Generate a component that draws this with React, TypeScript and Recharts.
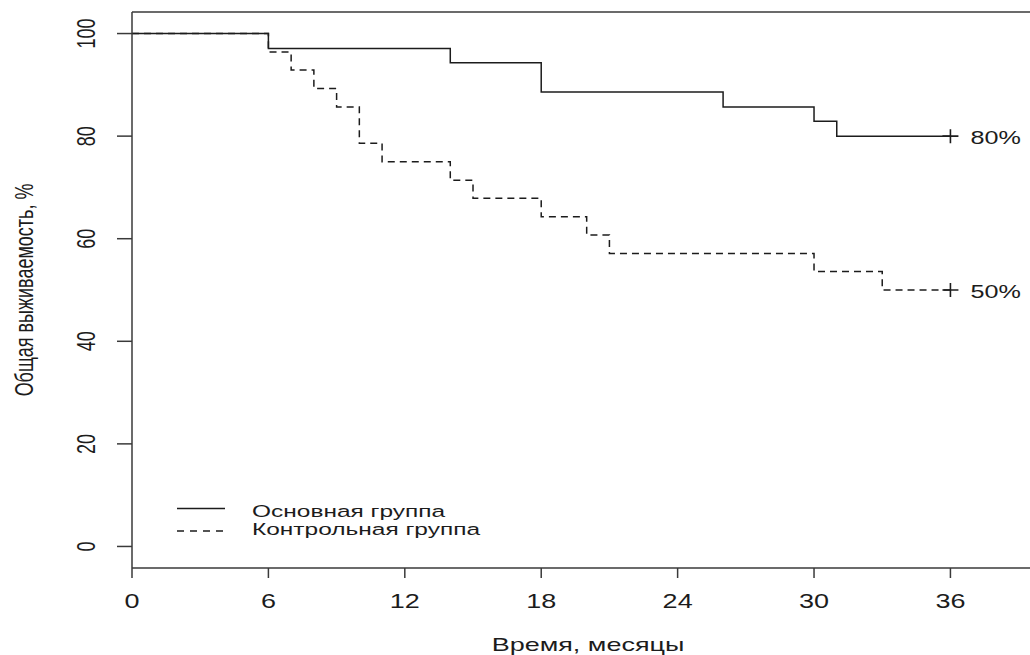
import { LineChart, Line, XAxis, YAxis, ReferenceLine, Legend } from "recharts";

const FONT = "'Liberation Sans', Arial, sans-serif";
const INK = "#1c1c1c";
const AXIS = "#3a3a3a";

// Kaplan-Meier steps (month -> survival %)
const mainMonths = [0, 6, 14, 18, 26, 30, 31, 36];
const mainSurvival = [100, 97.1, 94.3, 88.6, 85.7, 82.9, 80, 80];
const controlMonths = [0, 6, 7, 8, 9, 10, 11, 14, 15, 18, 20, 21, 30, 33, 36];
const controlSurvival = [100, 96.4, 92.9, 89.3, 85.7, 78.6, 75, 71.4, 67.9, 64.3, 60.7, 57.1, 53.6, 50, 50];
const censoredAt = 36;

const seriesNames = ["Основная группа", "Контрольная группа"];
const xTicks = [0, 6, 12, 18, 24, 30, 36];
const yTicks = [0, 20, 40, 60, 80, 100];
const xTitle = "Время, месяцы";
const yTitle = "Общая выживаемость, %";

const xMax = 39.5;
const yMin = -4.2;
const yMax = 104.2;

const mainData = mainMonths.map((t, i) => ({ t, s: mainSurvival[i] }));
const controlData = controlMonths.map((t, i) => ({ t, s: controlSurvival[i] }));

// the source image is stretched sideways, so text is scaled on x
function StretchText({ x, y, sx = 1.4, size = 18, anchor = "middle", rotate = false, children }: any) {
  const transform = `translate(${x},${y}) scale(${sx},1)` + (rotate ? " rotate(-90)" : "");
  return (
    <text transform={transform} x={0} y={0} textAnchor={anchor} fontSize={size} fontFamily={FONT} fill={INK}>
      {children}
    </text>
  );
}

function XTick({ x, y, payload }: any) {
  return <StretchText x={x} y={y + 30} size={20} sx={1.35}>{payload.value}</StretchText>;
}

function YTick({ x, y, payload }: any) {
  return <StretchText x={x - 22} y={y} size={18} sx={1.45} rotate>{payload.value}</StretchText>;
}

function censorMark(props: any) {
  const { cx, cy, payload, index } = props;
  if (payload.t !== censoredAt) return <g key={`c-${index}`} />;
  return (
    <path key={`c-${index}`} d={`M${cx - 8},${cy}H${cx + 8}M${cx},${cy - 7}V${cy + 7}`}
      stroke={INK} strokeWidth={1.6} fill="none" />
  );
}

const endLabel = (count: number) => (p: any) =>
  p.index === count - 1 ? (
    <StretchText key="end" x={p.x + 20} y={p.y + 8} anchor="start" size={18} sx={1.4}>
      {`${Math.round(p.value)}%`}
    </StretchText>
  ) : null;

function LegendBox({ payload }: any) {
  const items = [...(payload || [])].sort(
    (a: any, b: any) => seriesNames.indexOf(a.value) - seriesNames.indexOf(b.value)
  );
  return (
    <svg width={1030} height={655} style={{ position: "absolute", left: 0, top: 0 }}>
      {items.map((item: any, i: number) => (
        <g key={item.value}>
          <line x1={177} x2={225} y1={508.5 + i * 22.5} y2={508.5 + i * 22.5} stroke={INK} strokeWidth={1.5}
            strokeDasharray={item.payload?.strokeDasharray ? "7 6" : undefined} />
          <StretchText x={252} y={517 + i * 18.3} anchor="start" size={17} sx={1.44}>{item.value}</StretchText>
        </g>
      ))}
    </svg>
  );
}

export default function App() {
  return (
    <div style={{ position: "absolute", left: 0, top: 0, width: 1030, height: 655, overflow: "hidden", background: "#fff" }}>
      <LineChart width={1030} height={655} margin={{ top: 12, right: 0, bottom: 0, left: 0 }}>
        <XAxis type="number" dataKey="t" domain={[0, xMax]} allowDataOverflow ticks={xTicks} interval={0}
          height={87} tickSize={10} tickMargin={0} tick={<XTick />}
          axisLine={{ stroke: AXIS, strokeWidth: 1.5 }} tickLine={{ stroke: AXIS, strokeWidth: 1.5 }}
          label={{
            content: ({ viewBox }: any) => (
              <StretchText x={viewBox.x + viewBox.width / 2 + 7} y={651} size={18} sx={1.5}>{xTitle}</StretchText>
            ),
          }} />
        <YAxis type="number" domain={[yMin, yMax]} allowDataOverflow ticks={yTicks} interval={0}
          width={132} tickSize={15} tickMargin={0} tick={<YTick />}
          axisLine={{ stroke: AXIS, strokeWidth: 1.5 }} tickLine={{ stroke: AXIS, strokeWidth: 1.5 }}
          label={{
            content: ({ viewBox }: any) => (
              <StretchText x={viewBox.x + 33} y={viewBox.y + viewBox.height / 2} size={18} sx={1.45} rotate>{yTitle}</StretchText>
            ),
          }} />
        <ReferenceLine y={yMax} stroke={AXIS} strokeWidth={1.5} ifOverflow="visible" />
        <Legend layout="vertical" align="center" verticalAlign="middle" content={<LegendBox />}
          wrapperStyle={{ left: 0, top: 0, width: 1030, height: 655, pointerEvents: "none" }} />
        <Line data={mainData} dataKey="s" name={seriesNames[0]} type="stepAfter" stroke={INK} strokeWidth={1.5}
          dot={censorMark} activeDot={false} label={endLabel(mainData.length)} isAnimationActive={false} />
        <Line data={controlData} dataKey="s" name={seriesNames[1]} type="stepAfter" stroke={INK} strokeWidth={1.5}
          strokeDasharray="7 5" dot={censorMark} activeDot={false} label={endLabel(controlData.length)}
          isAnimationActive={false} />
      </LineChart>
    </div>
  );
}
